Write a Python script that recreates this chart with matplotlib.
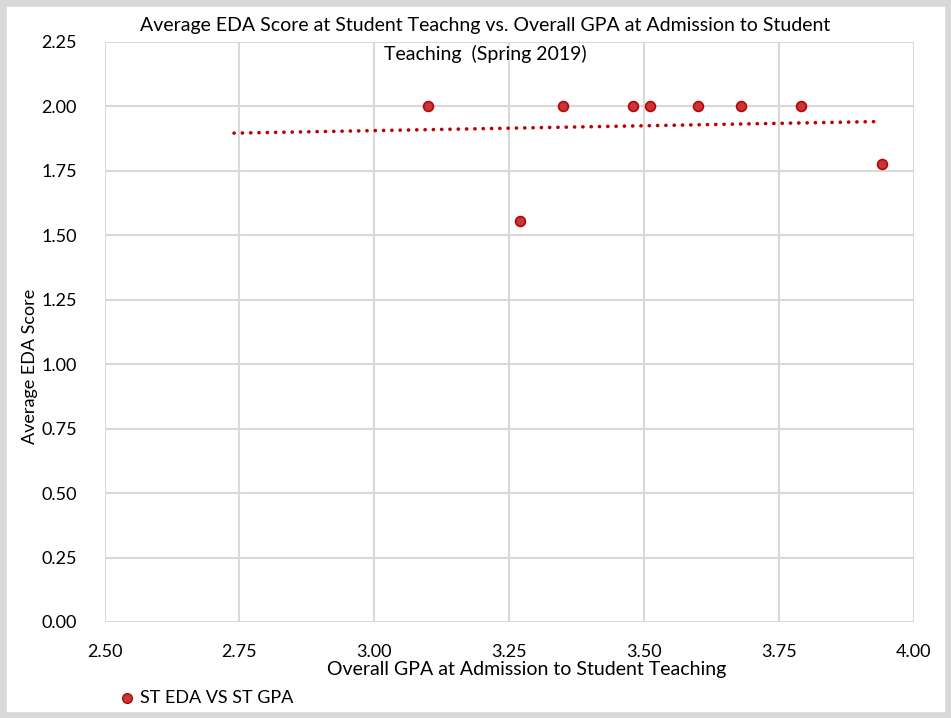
"""Scatter of average EDA score against overall GPA, Excel style."""

import numpy as np
import matplotlib.pyplot as plt
from matplotlib.patches import Rectangle

# Data
gpa = [3.10, 3.27, 3.35, 3.48, 3.51, 3.60, 3.68, 3.79, 3.94]
eda = [2.00, 1.556, 2.00, 2.00, 2.00, 2.00, 2.00, 2.00, 1.778]
x_ticks = [2.50, 2.75, 3.00, 3.25, 3.50, 3.75, 4.00]
y_ticks = [0.00, 0.25, 0.50, 0.75, 1.00, 1.25, 1.50, 1.75, 2.00, 2.25]
trend_start = 2.74  # trendline is extended backwards in the original
series_name = "ST EDA VS ST GPA"

plt.rcParams["font.family"] = ["Lato", "DejaVu Sans"]

fig = plt.figure(figsize=(9.51, 7.18), dpi=100)
W, H = 951, 718
ax = fig.add_axes([104.5 / W, 1 - 622 / H, (914 - 104.5) / W, (622 - 42) / H])

grid_col = "#d9d9d9"
ax.set_xlim(x_ticks[0], x_ticks[-1])
ax.set_ylim(y_ticks[0], y_ticks[-1])
ax.set_xticks(x_ticks)
ax.set_yticks(y_ticks)
ax.set_xticklabels([f"{v:.2f}" for v in x_ticks])
ax.set_yticklabels([f"{v:.2f}" for v in y_ticks])
ax.grid(True, color=grid_col, linewidth=1.5)
ax.set_axisbelow(True)
for s in ax.spines.values():
    s.set_visible(False)
ax.tick_params(length=0, labelsize=13, colors="black")
ax.tick_params(axis="x", pad=16)
ax.tick_params(axis="y", pad=20)

# linear trendline (least squares fit, drawn dotted)
slope, icept = np.polyfit(gpa, eda, 1)
xs = np.array([trend_start, max(gpa)])
ax.plot(xs, slope * xs + icept, color="#c00000", linewidth=2.6,
        linestyle=(0, (0.05, 2.25)), dash_capstyle="round", zorder=2)

ax.scatter(gpa, eda, s=50, color="#c0393b", edgecolor="#c00000",
           linewidth=1.2, zorder=3, clip_on=False)

fig.text(485 / W, 1 - 40 / H,
         "Average EDA Score at Student Teachng vs. Overall GPA at Admission to Student\n"
         "Teaching  (Spring 2019)",
         ha="center", va="center", fontsize=14, linespacing=1.75)
fig.text(30 / W, 1 - 366 / H, "Average EDA Score", rotation=90,
         ha="center", va="center", fontsize=13)
fig.text(527 / W, 1 - 669 / H, "Overall GPA at Admission to Student Teaching",
         ha="center", va="center", fontsize=14)

# legend
fig.lines.append(plt.Line2D([127 / W], [1 - 698 / H], marker="o", markersize=7,
                            color="#c0393b", markeredgecolor="#c00000",
                            transform=fig.transFigure))
fig.text(140 / W, 1 - 698 / H, series_name, ha="left", va="center", fontsize=13)

# outer border
fig.patches.append(Rectangle((0, 0), 1, 1, transform=fig.transFigure,
                             fill=False, edgecolor=grid_col, linewidth=9))

fig.savefig("out.png", dpi=100)
